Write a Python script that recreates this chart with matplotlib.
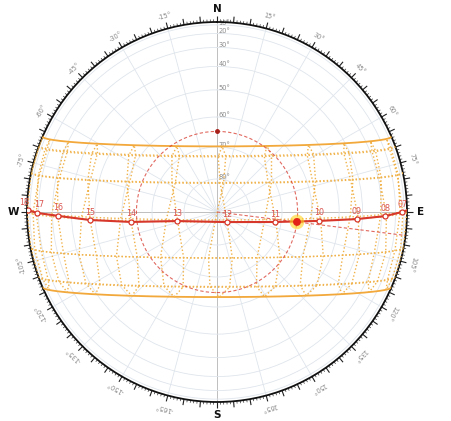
import matplotlib
matplotlib.use("Agg")
import matplotlib.pyplot as plt
from matplotlib.collections import LineCollection
from matplotlib.ticker import NullFormatter
import numpy as np

# site settings
latitude = 3.2           # deg N (noon altitude of the solstice lines)
clock_offset_min = 5.0   # clock ahead of mean solar time, minutes

# monthly date lines (21st of each month)
months = ["Jan", "Feb", "Mar", "Apr", "May", "Jun",
          "Jul", "Aug", "Sep", "Oct", "Nov", "Dec"]
declination = [-20.1, -10.8, 0.2, 11.9, 20.1, 23.4,
               20.4, 12.1, 0.8, -10.8, -19.9, -23.4]
equation_of_time = [-11.2, -13.8, -7.3, 1.1, 3.5, -1.6,
                    -6.3, -3.2, 6.9, 15.4, 14.0, 1.9]
solid_months = ["Jun", "Dec"]
analemma_hours = list(range(6, 19))

# today's path: hour marks (azimuth, altitude in degrees)
today_hours = ["07", "08", "09", "10", "11", "12",
               "13", "14", "15", "16", "17", "18"]
today_az = [90.0, 91.4, 92.9, 95.0, 99.8, 135.0,
            257.3, 263.4, 266.4, 268.6, 269.7, 270.6]
today_alt = [13.0, 27.8, 42.5, 57.4, 72.0, 85.7,
             77.5, 62.9, 47.9, 33.2, 18.7, 5.8]
sunrise_az = 89.5
sunset_az = 270.8

# current sun
sun_az = 97.1
sun_alt = 64.9

alt_rings = [0, 10, 20, 30, 40, 50, 60, 70, 80]
alt_labels = [10, 20, 30, 40, 50, 60, 70, 80]
spoke_az = list(range(0, 360, 15))
tick_az = list(range(0, 360))
az_labels = [15, 30, 45, 60, 75, 105, 120, 135, 150, 165,
             -165, -150, -135, -120, -105, -75, -60, -45, -30, -15]
cardinals = ["N", "E", "S", "W"]
cardinal_az = [0, 90, 180, 270]

GRID = "#dfe5ec"
AXISLINE = "#b4b4b4"
ORANGE = "#f0b24a"
RED = "#d7372b"
LABEL = "#8a8a8a"


def alt_fwd(a):
    a = np.asarray(a, dtype=float)
    return np.sign(a) * (1.0 - np.cos(np.radians(a)))


def alt_inv(s):
    s = np.asarray(s, dtype=float)
    return np.sign(s) * np.degrees(np.arccos(1.0 - np.clip(np.abs(s), 0.0, 2.0)))


def sun_position(dec, clock_hours, eot_min):
    phi = np.radians(latitude)
    d = np.radians(dec)
    solar = clock_hours + (eot_min - clock_offset_min) / 60.0
    h = np.radians(15.0 * (solar - 12.0))
    east = -np.cos(d) * np.sin(h)
    north = np.cos(phi) * np.sin(d) - np.sin(phi) * np.cos(d) * np.cos(h)
    up = np.sin(phi) * np.sin(d) + np.cos(phi) * np.cos(d) * np.cos(h)
    theta = np.arctan2(east, north)
    alt = np.degrees(np.arcsin(up))
    alt = np.where(alt >= 0, alt, np.nan)
    return theta, alt


def ring_point(az, frac):
    t = np.radians(az)
    return (0.5 + 0.5 * frac * np.sin(t), 0.5 + 0.5 * frac * np.cos(t))


fig = plt.figure(figsize=(4.51, 4.21), dpi=100)
ax = fig.add_axes([27 / 451, 19 / 421, 380 / 451, 380 / 421], projection="polar")
ax.set_facecolor("white")
ax.set_theta_zero_location("N")
ax.set_theta_direction(-1)
ax.set_rscale("function", functions=(alt_fwd, alt_inv))
ax.set_rlim(90, 0)

ax.set_rticks(alt_rings)
ax.yaxis.set_major_formatter(NullFormatter())
ax.yaxis.grid(True, color=GRID, linewidth=0.6)
ax.xaxis.grid(False)
ax.set_xticks([])
ax.spines["polar"].set_color("#111111")
ax.spines["polar"].set_linewidth(1.3)

# compass ticks outside the ring
major_segs = [[ring_point(a, 1.0), ring_point(a, 1.032)] for a in tick_az if a % 5 == 0]
minor_segs = [[ring_point(a, 1.0), ring_point(a, 1.014)] for a in tick_az if a % 5 != 0]
ax.add_collection(LineCollection(major_segs, colors="#222222", linewidths=0.8,
                                 transform=ax.transAxes, clip_on=False))
ax.add_collection(LineCollection(minor_segs, colors="#333333", linewidths=0.5,
                                 transform=ax.transAxes, clip_on=False))

for az in spoke_az:
    col = AXISLINE if az % 90 == 0 else GRID
    ax.plot([np.radians(az)] * 2, [90, 0], color=col, lw=0.6, zorder=1)

for a in alt_labels:
    ax.annotate(f"{a}°", (0, a), xytext=(1.2, 1.5), textcoords="offset points",
                ha="left", va="center", fontsize=4.8, color=LABEL, zorder=2)

# date lines
day_clock = np.linspace(4, 20, 700)
for m, d, e in zip(months, declination, equation_of_time):
    th, al = sun_position(d, day_clock, e)
    if m in solid_months:
        ax.plot(th, al, color="#f2a83a", lw=1.3, zorder=3)
    else:
        ax.plot(th, al, color=ORANGE, lw=1.0, ls=(0, (1, 1.6)), zorder=3)

# analemmas
dec_arr = np.array(declination + declination[:1])
eot_arr = np.array(equation_of_time + equation_of_time[:1])
for h in analemma_hours:
    th, al = sun_position(dec_arr, h, eot_arr)
    ax.plot(th, al, color=ORANGE, lw=1.0, ls=(0, (1, 1.6)), zorder=3)

# sun altitude circle and azimuth line
ring_th = np.radians(np.arange(0, 361, 2))
ax.plot(ring_th, np.full(ring_th.shape, sun_alt), color=RED, lw=0.8,
        ls=(0, (3, 2)), alpha=0.75, zorder=4)
ax.plot(0, sun_alt, "o", ms=2.5, color="#a8201a", zorder=5)
ax.plot([np.radians(sun_az)] * 2, [90, 0], color=RED, lw=0.8,
        ls=(0, (3, 2)), alpha=0.75, zorder=4)

# today's path
path_az = [sunrise_az] + today_az + [sunset_az]
path_alt = [0.0] + today_alt + [0.0]
ax.plot(np.radians(path_az), path_alt, color=RED, lw=1.5, zorder=6)
ax.plot(np.radians(today_az), today_alt, "o", ms=3.6, mfc="white", mec=RED,
        mew=0.9, zorder=7)
for lbl, az, al in zip(today_hours, today_az, today_alt):
    dx = {"18": -3.0, "17": 1.5}.get(lbl, 0.0)
    ax.annotate(lbl, (np.radians(az), al), xytext=(dx, 2.5),
                textcoords="offset points", ha="center", va="bottom",
                fontsize=5.8, color="#d9534f", zorder=8)

ax.scatter(np.radians(sun_az), sun_alt, s=110, color="#ffd21f", alpha=0.6,
           edgecolors="none", zorder=8)
ax.scatter(np.radians(sun_az), sun_alt, s=32, color="#e3221a",
           edgecolors="none", zorder=9)

# outer labels
for az in az_labels:
    x, y = ring_point(az, 1.065)
    ax.text(x, y, f"{az}°", transform=ax.transAxes, rotation=-az,
            ha="center", va="center", rotation_mode="anchor",
            fontsize=4.8, color=LABEL)
for c, az in zip(cardinals, cardinal_az):
    x, y = ring_point(az, 1.07)
    ax.text(x, y, c, transform=ax.transAxes, ha="center", va="center",
            fontsize=7.5, fontweight="bold", color="#111111")

fig.savefig("out.png", dpi=100)
